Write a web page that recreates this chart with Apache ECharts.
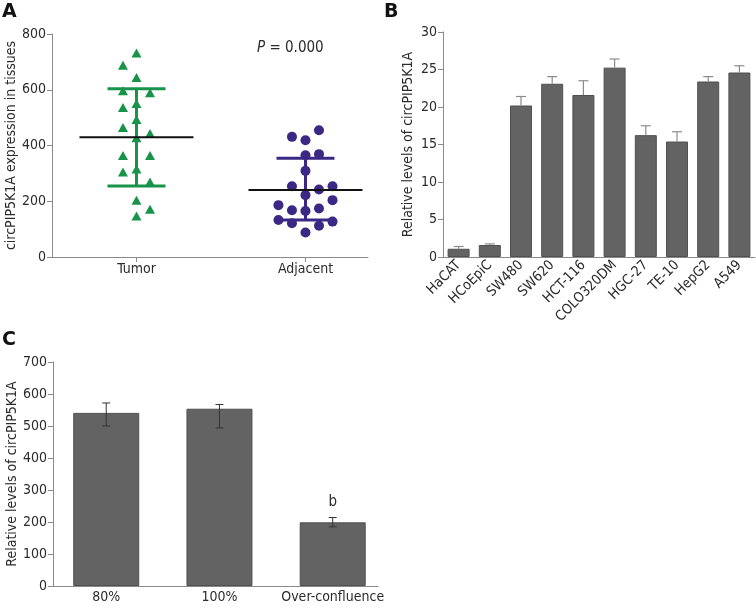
<!DOCTYPE html>
<html><head><meta charset="utf-8">
<script src="https://cdn.jsdelivr.net/npm/echarts@6/dist/echarts.min.js"></script>
<style>html,body{margin:0;padding:0;background:#fff}#c{width:756px;height:607px}</style>
</head><body><div id="c"></div>
<script>
// ---------- Panel A data ----------
const groupsA = ['Tumor', 'Adjacent'];
const tumorValues  = [732, 688, 644, 596, 589, 551, 536, 493, 465, 443, 428, 364, 364, 316, 305, 269, 204, 171, 147];
const tumorSlots   = [0, -1, 0, -1, 1, 0, -1, 0, -1, 1, 0, -1, 1, 0, -1, 1, 0, 1, 0];
const adjacentValues = [455, 431, 419, 369, 365, 309, 254, 254, 242, 222, 204, 186, 174, 168, 165, 133, 127, 121, 112, 88];
const adjacentSlots  = [1, -1, 0, 1, 0, 0, -1, 2, 1, 0, 2, -2, 1, -1, 0, -2, 2, -1, 1, 0];
const medianA = [430, 240];
const lowerA  = [255, 133];
const upperA  = [604, 354];
const pText = '0.000';

// ---------- Panel B data ----------
const cellLines = ['HaCAT', 'HCoEpiC', 'SW480', 'SW620', 'HCT-116', 'COLO320DM', 'HGC-27', 'TE-10', 'HepG2', 'A549'];
const levelsB = [1.1, 1.6, 20.2, 23.1, 21.6, 25.25, 16.25, 15.4, 23.4, 24.6];
const errorsB = [0.3, 0.15, 1.2, 0.95, 1.9, 1.15, 1.25, 1.3, 0.65, 0.9];

// ---------- Panel C data ----------
const confluence = ['80%', '100%', 'Over-confluence'];
const levelsC = [541, 554, 199];
const errLowC  = [500, 494, 185];
const errHighC = [572, 567, 214];
const sigC = ['', '', 'b'];

const FONT = 'DejaVu Sans Condensed';
const FS = 14;
const AX = '#8a8a8a';
const TXT = '#2b2b2b';
const GREEN = '#17944a';
const PURPLE = '#3b2884';
const SLOT = 0.08;

const chart = echarts.init(document.getElementById('c'), null, {renderer: 'canvas'});

function yAxisCommon(grid, min, max, interval, name, gap) {
  return {
    type: 'value', gridIndex: grid, min, max, interval,
    name, nameLocation: 'middle', nameRotate: 90, nameGap: gap,
    nameTextStyle: {fontFamily: FONT, fontSize: FS, color: TXT},
    axisLine: {show: true, onZero: false, lineStyle: {color: AX, width: 1}},
    axisTick: {show: true, length: 5, lineStyle: {color: AX}},
    axisLabel: {fontFamily: FONT, fontSize: FS, color: TXT, margin: 6},
    splitLine: {show: false}
  };
}

const option = {
  animation: false,
  backgroundColor: '#fff',
  grid: [
    {left: 52, top: 34, width: 316, height: 223},
    {left: 443, top: 32, width: 312, height: 225},
    {left: 53, top: 362, width: 325, height: 224}
  ],
  xAxis: [
    {
      type: 'value', gridIndex: 0, min: 0.5, max: 2.37,
      axisLine: {show: true, onZero: false, lineStyle: {color: AX}},
      axisTick: {show: true, length: 5, customValues: [1, 2], lineStyle: {color: AX}},
      axisLabel: {customValues: [1, 2], formatter: v => groupsA[Math.round(v) - 1],
        fontFamily: FONT, fontSize: FS, color: TXT, margin: 5},
      splitLine: {show: false}
    },
    {
      type: 'category', gridIndex: 1, data: cellLines,
      axisLine: {show: true, onZero: false, lineStyle: {color: AX}},
      axisTick: {show: false},
      axisLabel: {interval: 0, rotate: 45, fontFamily: FONT, fontSize: FS, color: TXT, margin: 6}
    },
    {
      type: 'value', gridIndex: 2, min: -0.47, max: 2.4,
      axisLine: {show: true, onZero: false, lineStyle: {color: AX}},
      axisTick: {show: false},
      axisLabel: {customValues: [0, 1, 2], formatter: v => confluence[Math.round(v)],
        fontFamily: FONT, fontSize: FS, color: TXT, margin: 4},
      splitLine: {show: false}
    }
  ],
  yAxis: [
    yAxisCommon(0, 0, 800, 200, 'circPIP5K1A expression in tissues', 34),
    yAxisCommon(1, 0, 30, 5, 'Relative levels of circPIP5K1A', 28),
    yAxisCommon(2, 0, 700, 100, 'Relative levels of circPIP5K1A', 34)
  ],
  graphic: [
    {type: 'text', left: 2, top: 3, style: {text: 'A', font: 'bold 19px "DejaVu Sans"', fill: '#111'}},
    {type: 'text', left: 384, top: 3, style: {text: 'B', font: 'bold 19px "DejaVu Sans"', fill: '#111'}},
    {type: 'text', left: 2, top: 331, style: {text: 'C', font: 'bold 19px "DejaVu Sans"', fill: '#111'}},
    {type: 'text', left: 257, top: 41, style: {
      text: '{i|P} = ' + pText,
      rich: {i: {fontStyle: 'italic', fontFamily: FONT, fontSize: 15, fill: TXT}},
      font: '15px "DejaVu Sans Condensed"', fill: TXT}}
  ],
  series: [
    // A: error bars
    {
      type: 'custom', xAxisIndex: 0, yAxisIndex: 0, z: 1,
      data: groupsA.map((g, i) => [i + 1, lowerA[i], upperA[i]]),
      renderItem: (params, api) => {
        const x = api.value(0);
        const lo = api.coord([x, api.value(1)]);
        const hi = api.coord([x, api.value(2)]);
        const col = params.dataIndex === 0 ? GREEN : PURPLE;
        const st = {stroke: col, lineWidth: 3};
        return {type: 'group', children: [
          {type: 'line', shape: {x1: lo[0], y1: lo[1], x2: hi[0], y2: hi[1]}, style: st},
          {type: 'line', shape: {x1: lo[0] - 29, y1: lo[1], x2: lo[0] + 29, y2: lo[1]}, style: st},
          {type: 'line', shape: {x1: hi[0] - 29, y1: hi[1], x2: hi[0] + 29, y2: hi[1]}, style: st}
        ]};
      }
    },
    {
      type: 'scatter', xAxisIndex: 0, yAxisIndex: 0, z: 2,
      symbol: 'triangle', symbolSize: [10, 9],
      itemStyle: {color: GREEN, opacity: 1},
      data: tumorValues.map((v, i) => [1 + tumorSlots[i] * SLOT, v])
    },
    {
      type: 'scatter', xAxisIndex: 0, yAxisIndex: 0, z: 2,
      symbol: 'circle', symbolSize: 10,
      itemStyle: {color: PURPLE, opacity: 1},
      data: adjacentValues.map((v, i) => [2 + adjacentSlots[i] * SLOT, v])
    },
    {
      type: 'custom', xAxisIndex: 0, yAxisIndex: 0, z: 3,
      data: groupsA.map((g, i) => [i + 1, medianA[i]]),
      renderItem: (params, api) => {
        const p = api.coord([api.value(0), api.value(1)]);
        return {type: 'line', shape: {x1: p[0] - 57, y1: p[1], x2: p[0] + 57, y2: p[1]},
          style: {stroke: '#111', lineWidth: 2}};
      }
    },
    // B: bars
    {
      type: 'bar', xAxisIndex: 1, yAxisIndex: 1, barWidth: 22,
      itemStyle: {color: '#636363', borderColor: '#505050', borderWidth: 1},
      data: levelsB
    },
    {
      type: 'custom', xAxisIndex: 1, yAxisIndex: 1, z: 3,
      data: levelsB.map((v, i) => [i, v, errorsB[i]]),
      renderItem: (params, api) => {
        const i = api.value(0), v = api.value(1), e = api.value(2);
        const b = api.coord([i, v]);
        const t = api.coord([i, v + e]);
        const st = {stroke: '#8c8c8c', lineWidth: 1.2};
        return {type: 'group', children: [
          {type: 'line', shape: {x1: b[0], y1: b[1], x2: t[0], y2: t[1]}, style: st},
          {type: 'line', shape: {x1: t[0] - 5, y1: t[1], x2: t[0] + 5, y2: t[1]}, style: st}
        ]};
      }
    },
    // C: bars
    {
      type: 'bar', xAxisIndex: 2, yAxisIndex: 2, barWidth: 66,
      itemStyle: {color: '#636363', borderColor: '#505050', borderWidth: 1},
      data: levelsC.map((v, i) => ({
        value: [i, v],
        label: {show: sigC[i] !== '', position: 'top', distance: 13, formatter: sigC[i],
          fontFamily: FONT, fontSize: 15, color: TXT}
      }))
    },
    {
      type: 'custom', xAxisIndex: 2, yAxisIndex: 2, z: 3,
      data: levelsC.map((v, i) => [i, errLowC[i], errHighC[i]]),
      renderItem: (params, api) => {
        const i = api.value(0);
        const lo = api.coord([i, api.value(1)]);
        const hi = api.coord([i, api.value(2)]);
        const st = {stroke: '#333', lineWidth: 1};
        return {type: 'group', children: [
          {type: 'line', shape: {x1: lo[0], y1: lo[1], x2: hi[0], y2: hi[1]}, style: st},
          {type: 'line', shape: {x1: lo[0] - 4, y1: lo[1], x2: lo[0] + 4, y2: lo[1]}, style: st},
          {type: 'line', shape: {x1: hi[0] - 4, y1: hi[1], x2: hi[0] + 4, y2: hi[1]}, style: st}
        ]};
      }
    }
  ]
};
chart.setOption(option);
</script>
</body></html>
